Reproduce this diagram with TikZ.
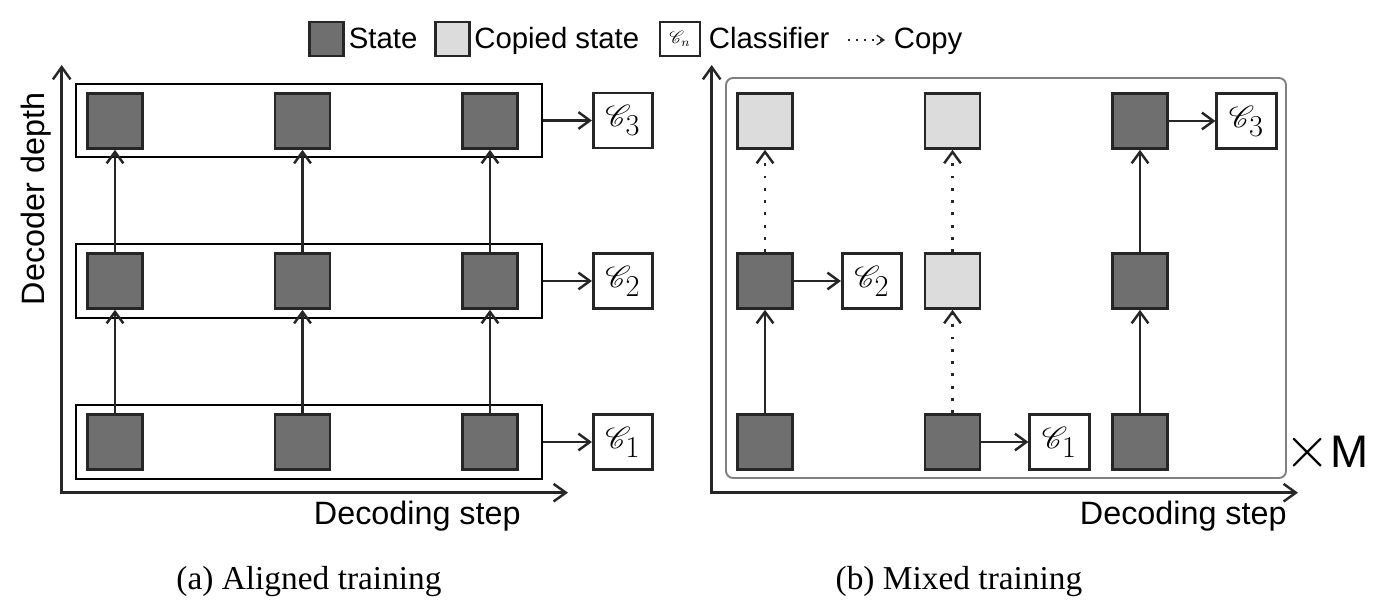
\documentclass[tikz,border=0pt]{standalone}
\usepackage[no-math]{fontspec}
\setmainfont{Liberation Serif}
\setsansfont{Liberation Sans}
\usepackage{amsmath,amssymb}
\usepackage{mathrsfs}
\usepackage{graphicx}
\usepackage{xcolor}
\usepackage{tikz}
\usetikzlibrary{arrows.meta}

\definecolor{statefill}{RGB}{111,111,111}
\definecolor{copyfill}{RGB}{220,220,220}
\definecolor{boxline}{RGB}{38,38,38}
\definecolor{roundline}{RGB}{128,128,128}

\tikzset{
  state/.style={draw=boxline, line width=1.5pt, fill=statefill,
    minimum width=1.1cm, minimum height=1.1cm, inner sep=0pt},
  copied/.style={state, fill=copyfill},
  clf/.style={draw=boxline, line width=1.5pt, fill=white,
    minimum width=1.19cm, minimum height=1.1cm, inner sep=0pt,
    font=\fontsize{16}{18}\selectfont},
  grp/.style={draw=black, line width=1pt, minimum width=9.33cm,
    minimum height=1.47cm, inner sep=0pt},
  flow/.style={draw=boxline, line width=1.3pt,
    -{Straight Barb[length=6.5pt,width=9.5pt,line width=1.4pt]}},
  copyflow/.style={flow, line width=1.6pt, dash pattern=on 1.6pt off 5.4pt},
  axis/.style={draw=boxline, line width=1.4pt,
    {Straight Barb[length=7pt,width=10pt,line width=1.4pt]}-{Straight Barb[length=7pt,width=10pt,line width=1.4pt]}},
  lab/.style={font=\sffamily\fontsize{18.4}{22}\selectfont, inner sep=0pt},
  lgtext/.style={font=\sffamily\fontsize{16.7}{20}\selectfont, inner sep=0pt, anchor=base west},
  lgbox/.style={line width=1.2pt, minimum width=0.68cm, minimum height=0.68cm},
  caption/.style={font=\fontsize{19}{22}\selectfont, inner sep=0pt, anchor=base}
}

\begin{document}
\begin{tikzpicture}
  \useasboundingbox (0,0) rectangle (27.56,12.18);

  % legend
  \node[state, lgbox] (lgstate) at (6.53,11.40) {};
  \node[lgtext] (lgstatetxt) at (6.97,11.21) {State};
  \node[copied, lgbox] (lgcopied) at (9.05,11.40) {};
  \node[lgtext] (lgcopiedtxt) at (9.48,11.21) {Copied state};
  \node[clf, lgbox, minimum width=0.8cm, line width=1.2pt, font=\fontsize{10}{12}\selectfont] (lgclf) at (13.60,11.40) {$\mathscr{C}_n$};
  \node[lgtext] (lgclftxt) at (14.17,11.21) {Classifier};
  \coordinate (lgcopyA) at (16.96,11.38);
  \coordinate (lgcopyB) at (17.70,11.38);
  \draw[boxline, line width=1pt, dash pattern=on 1pt off 3.6pt,
    -{Straight Barb[length=4pt,width=5.5pt,line width=0.8pt]}] (lgcopyA) -- (lgcopyB);
  \node[lgtext] (lgcopytxt) at (17.87,11.21) {Copy};

  % (a) aligned training
  \coordinate (ao) at (1.234,2.326);
  \coordinate (aytop) at (1.234,10.88);
  \coordinate (axend) at (11.36,2.326);
  \draw[axis] (aytop) -- (ao) -- (axend);
  \node[lab, rotate=90, anchor=base] (aylab) at (0.88,8.20) {Decoder depth};
  \node[lab, anchor=base east] (axlab) at (10.42,1.68) {Decoding step};

  \node[grp] (g3) at (6.18,9.77) {};
  \node[grp] (g2) at (6.18,6.56) {};
  \node[grp] (g1) at (6.18,3.34) {};

  \node[state] (a31) at (2.30,9.76) {};
  \node[state] (a32) at (6.05,9.76) {};
  \node[state] (a33) at (9.80,9.76) {};
  \node[state] (a21) at (2.30,6.56) {};
  \node[state] (a22) at (6.05,6.56) {};
  \node[state] (a23) at (9.80,6.56) {};
  \node[state] (a11) at (2.30,3.34) {};
  \node[state] (a12) at (6.05,3.34) {};
  \node[state] (a13) at (9.80,3.34) {};

  \node[clf] (ac3) at (12.46,9.77) {$\mathscr{C}_{\textstyle 3}$};
  \node[clf] (ac2) at (12.46,6.56) {$\mathscr{C}_{\textstyle 2}$};
  \node[clf] (ac1) at (12.46,3.34) {$\mathscr{C}_{\textstyle 1}$};

  \draw[flow] (a11) -- (a21);
  \draw[flow] (a12) -- (a22);
  \draw[flow] (a13) -- (a23);
  \draw[flow] (a21) -- (a31);
  \draw[flow] (a22) -- (a32);
  \draw[flow] (a23) -- (a33);
  \draw[flow] (g3) -- (ac3);
  \draw[flow] (g2) -- (ac2);
  \draw[flow] (g1) -- (ac1);

  \node[caption] (capa) at (6.18,0.38) {(a) Aligned training};

  % (b) mixed training
  \coordinate (bo) at (14.234,2.326);
  \coordinate (bytop) at (14.234,10.88);
  \coordinate (bxend) at (25.96,2.326);
  \draw[axis] (bytop) -- (bo) -- (bxend);
  \node[lab, anchor=base east] (bxlab) at (25.74,1.68) {Decoding step};

  \node[draw=roundline, line width=1.1pt, rounded corners=4pt,
    minimum width=11.2cm, minimum height=8.0cm] (mix) at (20.12,6.62) {};
  \node[font=\sffamily\fontsize{26}{30}\selectfont, inner sep=0pt, anchor=base west] (times) at (25.68,2.82)
    {\scalebox{3.38}{\normalsize$\times$}M};

  \node[copied] (b31) at (15.30,9.76) {};
  \node[copied] (b32) at (19.05,9.76) {};
  \node[state] (b33) at (22.80,9.76) {};
  \node[state] (b21) at (15.30,6.56) {};
  \node[copied] (b22) at (19.05,6.56) {};
  \node[state] (b23) at (22.80,6.56) {};
  \node[state] (b11) at (15.30,3.34) {};
  \node[state] (b12) at (19.05,3.34) {};
  \node[state] (b13) at (22.80,3.34) {};

  \node[clf] (bc3) at (24.93,9.76) {$\mathscr{C}_{\textstyle 3}$};
  \node[clf] (bc2) at (17.44,6.56) {$\mathscr{C}_{\textstyle 2}$};
  \node[clf] (bc1) at (21.19,3.34) {$\mathscr{C}_{\textstyle 1}$};

  \draw[flow] (b11) -- (b21);
  \draw[copyflow] (b21) -- (b31);
  \draw[copyflow] (b12) -- (b22);
  \draw[copyflow] (b22) -- (b32);
  \draw[flow] (b13) -- (b23);
  \draw[flow] (b23) -- (b33);
  \draw[flow] (b33) -- (bc3);
  \draw[flow] (b21) -- (bc2);
  \draw[flow] (b12) -- (bc1);

  \node[caption] (capb) at (19.18,0.38) {(b) Mixed training};
\end{tikzpicture}
\end{document}
